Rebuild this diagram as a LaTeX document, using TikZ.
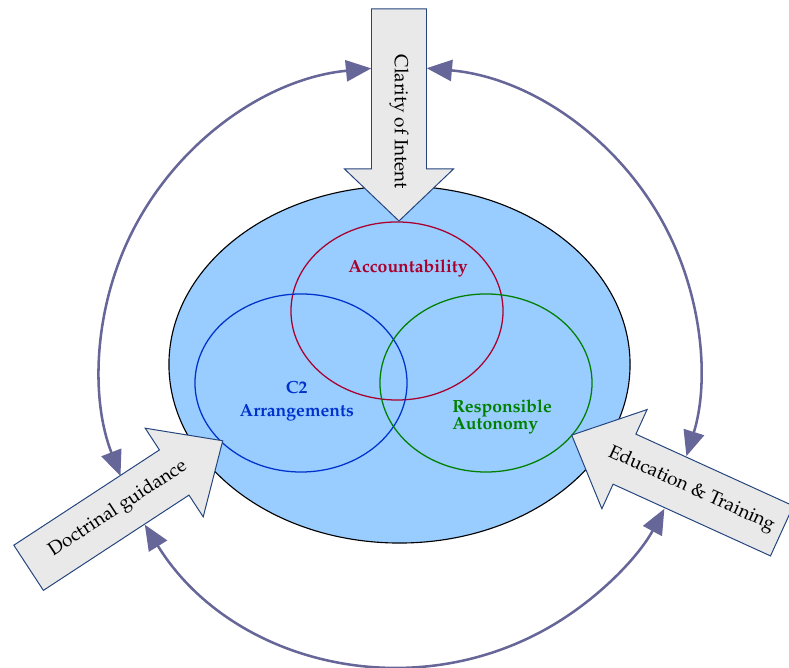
\documentclass[tikz,border=0pt]{standalone}
\usepackage[T1]{fontenc}
\usepackage{mathpazo}
\usepackage{tikz}
\definecolor{ctwosky}{RGB}{153,204,255}
\definecolor{ctwored}{RGB}{170,0,45}
\definecolor{ctwoblue}{RGB}{0,51,204}
\definecolor{ctwogreen}{RGB}{0,128,0}
\definecolor{ctwoloop}{RGB}{102,102,153}
\definecolor{ctwoedge}{RGB}{36,68,125}
\definecolor{ctwogrey}{RGB}{233,233,233}
\usetikzlibrary{arrows.meta,shapes.geometric,calc}

\begin{document}
\begin{tikzpicture}[x=0.025cm, y=0.025cm,
    venn/.style={draw, ellipse, line width=0.9pt, minimum width=5.3cm, minimum height=4.45cm, inner sep=0pt},
    venntext/.style={font=\bfseries\fontsize{12.5}{12}\selectfont, inner sep=0pt},
    blockarrow/.style={draw=ctwoedge, fill=ctwogrey, line width=0.7pt, line join=miter},
    arrowtext/.style={font=\fontsize{13.5}{16}\selectfont, transform shape, inner sep=0pt},
    loopline/.style={draw=ctwoloop, line width=1.8pt,
        {Triangle[length=18pt,width=15pt]}-{Triangle[length=18pt,width=15pt]}}]
    \useasboundingbox (0,0) rectangle (789,668);

    % Core and overlapping circles
    \node[draw, ellipse, fill=ctwosky, line width=0.8pt, minimum width=11.525cm,
          minimum height=8.925cm, inner sep=0pt] (core) at (399.5,303.5) {};
    \node[venn, draw=ctwored] (acc) at (397,357) {};
    \node[venn, draw=ctwoblue] (ctwo) at (301,285) {};
    \node[venn, draw=ctwogreen] (resp) at (486,285) {};

    \node[venntext, text=ctwored] (acclabel) at (408,400) {Accountability};
    \node[venntext, text=ctwoblue, align=center] (ctwolabel) at (296.7,266.6) {C2\\[4.4pt]Arrangements};
    \node[venntext, text=ctwogreen, align=left, anchor=west] (resplabel) at (452,251.5) {Responsible\\Autonomy};

    % Feedback loop
    \coordinate (hub) at (400,301);
    \coordinate (tl) at ($(hub)+(95.5:300)$);
    \coordinate (tr) at ($(hub)+(84.9:300)$);
    \coordinate (bl) at ($(hub)+(211.7:300)$);
    \draw[loopline] (tl) arc[start angle=95.5, end angle=201.3, radius=300];
    \draw[loopline] (tr) arc[start angle=84.9, end angle=-17.3, radius=300];
    \draw[loopline] (bl) arc[start angle=211.7, end angle=331.8, radius=300];

    % Input arrows
    \begin{scope}[shift={(399,659)}, rotate=-90]
        \draw[blockarrow] (0,27.5) -- (160,27.5) -- (160,54.5) -- (212,0)
            -- (160,-54.5) -- (160,-27.5) -- (0,-27.5) -- cycle;
        \node[arrowtext] (intent) at (113,0) {Clarity of Intent};
    \end{scope}
    \begin{scope}[shift={(28.6,100.2)}, rotate=33.2]
        \draw[blockarrow] (0,27) -- (174,27) -- (174,53) -- (232,0)
            -- (174,-53) -- (174,-27) -- (0,-27) -- cycle;
        \node[arrowtext] (doctrine) at (107,0) {Doctrinal guidance};
    \end{scope}
    \begin{scope}[shift={(781.9,137.1)}, rotate=155.5]
        \draw[blockarrow] (0,27.5) -- (173,27.5) -- (173,54.5) -- (231,0)
            -- (173,-54.5) -- (173,-27.5) -- (0,-27.5) -- cycle;
        \node[arrowtext, rotate=180] (training) at (99.5,0) {Education \& Training};
    \end{scope}
\end{tikzpicture}
\end{document}
